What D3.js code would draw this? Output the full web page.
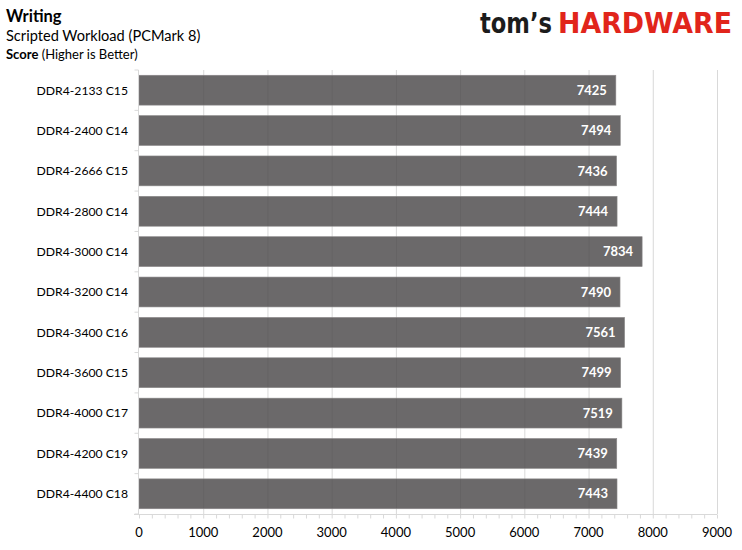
<!DOCTYPE html>
<html><head><meta charset="utf-8">
<script src="https://cdn.jsdelivr.net/npm/d3@7"></script>
<style>
html,body{margin:0;padding:0;background:#fff;}
svg{display:block;font-family:Lato,"Open Sans",sans-serif;}
</style></head>
<body>
<svg id="c" width="742" height="550"></svg>
<script>
const categories = ["DDR4-2133 C15","DDR4-2400 C14","DDR4-2666 C15","DDR4-2800 C14","DDR4-3000 C14","DDR4-3200 C14","DDR4-3400 C16","DDR4-3600 C15","DDR4-4000 C17","DDR4-4200 C19","DDR4-4400 C18"];
const scores = [7425,7494,7436,7444,7834,7490,7561,7499,7519,7439,7443];
const xTicks = [0,1000,2000,3000,4000,5000,6000,7000,8000,9000];
const minorTicks = d3.range(0, 9001, 200);

(function(){
const svg = d3.select("#c");
const pL = 139, pR = 717, pT = 70, pB = 514;

const x = d3.scaleLinear().domain([0,9000]).range([pL,pR]);
const y = d3.scaleBand().domain(categories).range([pT,pB]).paddingInner(0.26).paddingOuter(0.13);
const yb = d3.scaleBand().domain(categories).range([pT,pB]);

// Title block
svg.append("text").attr("x",6).attr("y",22).attr("font-size",16.5).attr("font-weight","bold").attr("fill","#000").text("Writing");
svg.append("text").attr("x",6).attr("y",41).attr("font-size",14.6).attr("fill","#000").text("Scripted Workload (PCMark 8)");
const st = svg.append("text").attr("x",6).attr("y",59).attr("font-size",13).attr("fill","#000");
st.append("tspan").attr("font-weight","bold").text("Score");
st.append("tspan").text(" (Higher is Better)");

// Logo
svg.append("text").attr("x",480).attr("y",33).attr("font-size",29).attr("font-weight","bold")
  .attr("font-family","'DejaVu Sans Condensed','DejaVu Sans',sans-serif")
  .attr("fill","#1c1c1c").attr("textLength",72).attr("lengthAdjust","spacingAndGlyphs").text("tom\u2019s");
svg.append("text").attr("x",558).attr("y",33).attr("font-size",28).attr("font-weight","bold")
  .attr("font-family","'DejaVu Sans Condensed','DejaVu Sans',sans-serif")
  .attr("fill","#e1251b").attr("textLength",174).attr("lengthAdjust","spacingAndGlyphs").text("HARDWARE");

// Gridlines (behind)
svg.append("g").selectAll("line").data(xTicks.slice(1)).join("line")
  .attr("x1",d=>x(d)+0.5).attr("x2",d=>x(d)+0.5).attr("y1",pT).attr("y2",pB)
  .attr("stroke","#d9d9d9").attr("stroke-width",1);

// Bars
svg.append("g").selectAll("rect").data(scores).join("rect")
  .attr("x",x(0)).attr("y",(d,i)=>y(categories[i]))
  .attr("width",d=>x(d)-x(0)).attr("height",y.bandwidth())
  .attr("fill","#4a4849").attr("fill-opacity",0.82)
  .attr("stroke","#8a8889").attr("stroke-width",0.6);

// Value labels
svg.append("g").selectAll("text").data(scores).join("text")
  .attr("x",d=>x(d)-9).attr("y",(d,i)=>y(categories[i])+y.bandwidth()/2)
  .attr("dy","0.36em").attr("text-anchor","end").attr("font-size",13).attr("font-weight","bold")
  .attr("fill","#fff").text(d=>d);

// Y axis
const yAxisG = svg.append("g").attr("transform",`translate(${pL-0.5},0)`);
yAxisG.append("line").attr("x1",0).attr("x2",0).attr("y1",pT).attr("y2",pB).attr("stroke","#d9d9d9");
yAxisG.selectAll("line.t").data(categories.concat([null])).join("line").attr("class","t")
  .attr("x1",-4).attr("x2",0)
  .attr("y1",(d,i)=> i<categories.length ? yb(d) : pB)
  .attr("y2",(d,i)=> i<categories.length ? yb(d) : pB)
  .attr("stroke","#d9d9d9");
svg.append("g").selectAll("text").data(categories).join("text")
  .attr("x",128).attr("y",d=>yb(d)+yb.bandwidth()/2).attr("dy","0.36em")
  .attr("text-anchor","end").attr("font-size",12.2).attr("fill","#000").text(d=>d);

// X axis
const xAxis = d3.axisBottom(x).tickValues(minorTicks).tickSize(4).tickFormat("");
const xg = svg.append("g").attr("transform",`translate(0,${pB+0.5})`).call(xAxis);
xg.select(".domain").attr("stroke","#d9d9d9").attr("d",`M${pL-5},0H${pR}`);
xg.selectAll(".tick line").attr("stroke","#d9d9d9");
svg.append("g").selectAll("text").data(xTicks).join("text")
  .attr("x",d=>x(d)).attr("y",537).attr("text-anchor","middle").attr("font-size",13).attr("fill","#000").text(d=>d);
})();
</script>
</body></html>
